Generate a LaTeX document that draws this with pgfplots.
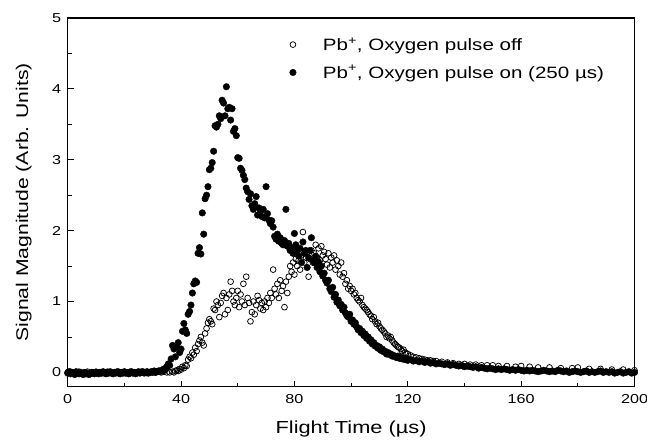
\documentclass[border=0pt]{standalone}
\usepackage{pgfplots}
\pgfplotsset{compat=1.18}
\usepackage{fontspec}
\setmainfont{Liberation Sans}[FakeStretch=1.25]
\begin{document}
\begin{tikzpicture}
\begin{axis}[
  name=ax,
  scale only axis,
  width=567bp, height=368.7bp,
  xmin=0, xmax=200, ymin=-0.2, ymax=5,
  xtick={0,40,80,120,160,200},
  ytick={0,1,2,3,4,5},
  minor x tick num=1,
  minor y tick num=1,
  xtick pos=bottom, ytick pos=left,
  tick align=inside,
  major tick length=6bp, minor tick length=4bp,
  axis line style={line width=1.1pt},
  every tick/.style={line width=0.9pt, black},
  /pgf/number format/assume math mode=true,
  ticklabel style={font=\fontsize{13}{15}\selectfont},
  xticklabel style={yshift=-4bp},
  yticklabel style={xshift=-3bp},
  xlabel={Flight Time (µs)},
  ylabel={Signal Magnitude (Arb. Units)},
  xlabel style={font=\fontsize{17.5}{20}\selectfont, at={(rel axis cs:0.5,-0.116)}, anchor=center},
  ylabel style={font=\fontsize{17}{20}\selectfont, at={(rel axis cs:-0.0776,0.5)}, anchor=center},
  legend style={draw=none, fill=none, at={(0.39,0.89)}, anchor=west,
    font=\fontsize{16.5}{19.5}\selectfont, row sep=9.5bp, inner sep=0pt,
    cells={anchor=west}},
  legend image code/.code={\path[draw=none,fill=none] (-4bp,0bp) -- (28bp,0bp); \draw[#1] plot coordinates {(0bp,0bp)};},
  clip=false,
]
\addplot[only marks, mark=o, mark size=2.9bp, mark options={line width=0.75pt, fill=white, draw=black}] table {
x y
0 0.00
1 0.01
2 -0.01
3 0.00
4 0.01
5 -0.01
6 0.00
7 0.01
8 -0.01
9 0.00
10 0.01
11 0.00
12 -0.01
13 0.00
14 0.01
15 0.00
16 -0.01
17 0.00
18 0.01
19 0.00
20 -0.01
21 0.00
22 0.01
23 0.00
24 -0.01
25 0.00
26 0.01
27 0.00
28 -0.01
29 0.00
30 0.01
31 0.00
32 0.01
33 0.00
34 0.01
35 0.00
36 0.00
37 0.01
37.5 0.00
38 0.02
38.5 0.03
39 0.02
39.5 0.05
40 0.04
40.5 0.08
41 0.06
41.5 0.10
42 0.09
42.5 0.18
43 0.22
43.5 0.20
44 0.28
44.5 0.25
45 0.35
45.5 0.30
46 0.40
46.5 0.45
47 0.50
47.5 0.42
48 0.38
48.5 0.55
49 0.62
49.5 0.70
50 0.75
50.5 0.72
51 0.68
51.5 0.90
52 0.88
52.5 1.00
53 0.95
53.5 0.78
54 0.98
54.5 1.08
55 1.12
55.5 0.82
56 1.05
56.5 0.88
57 1.10
57.5 1.28
58 1.15
58.5 1.00
59 0.95
59.5 1.05
60 1.15
60.5 0.92
61 1.10
61.5 1.00
62 1.25
62.5 0.95
63 1.35
63.5 1.05
64 0.98
64.5 0.72
65 0.85
65.5 1.00
66 0.82
66.5 0.95
67 1.08
67.5 1.02
68 0.90
68.5 0.98
69 0.88
69.5 1.00
70 0.92
70.5 1.05
71 0.98
71.5 1.12
72 1.05
72.5 1.45
73 1.18
73.5 1.10
74 1.25
74.5 1.05
75 1.30
75.5 1.15
76 1.22
76.5 0.92
77 1.28
77.5 1.12
78 1.35
78.5 1.50
79 1.42
79.5 1.55
80 1.38
80.5 1.60
81 1.50
81.5 1.58
82 1.45
82.5 1.65
83 1.98
83.5 1.55
84 1.62
84.5 1.70
85 1.35
85.5 1.60
86 1.72
86.5 1.55
87 1.68
87.5 1.80
88 1.62
88.5 1.75
89 1.58
89.5 1.78
90 1.65
90.5 1.70
91 1.60
91.5 1.52
92 1.68
92.5 1.48
93 1.62
93.5 1.55
94 1.65
94.5 1.45
95 1.58
95.5 1.50
96 1.38
96.5 1.55
97 1.35
97.5 1.40
98 1.25
98.5 1.30
99 1.18
99.5 1.22
100 1.15
100.5 1.18
101 1.10
101.5 1.12
102 1.05
102.5 1.02
103 1.00
103.5 1.05
104 0.95
104.5 0.92
105 0.90
105.5 0.88
106 0.85
106.5 0.82
107 0.80
107.5 0.75
108 0.78
108.5 0.72
109 0.68
109.5 0.70
110 0.65
110.5 0.62
111 0.60
111.5 0.58
112 0.55
112.5 0.50
113 0.52
113.5 0.48
114 0.50
114.5 0.45
115 0.42
115.5 0.40
116 0.38
116.5 0.36
117 0.35
117.5 0.33
118 0.30
118.5 0.32
119 0.28
119.5 0.27
120 0.26
121 0.24
122 0.22
123 0.21
124 0.20
125 0.19
126 0.18
127 0.17
128 0.17
129 0.16
130 0.16
132 0.15
134 0.14
136 0.13
138 0.12
140 0.12
142 0.11
144 0.11
146 0.10
148 0.10
150 0.10
152 0.09
155 0.09
158 0.08
160 0.09
163 0.08
166 0.07
170 0.07
174 0.06
178 0.06
180 0.07
184 0.05
188 0.05
192 0.04
196 0.04
200 0.03
};
\addlegendentry{Pb\textsuperscript{+}, Oxygen pulse off}
\addplot[only marks, mark=*, mark size=3.3bp, mark options={draw=black, fill=black}] table {
x y
0 -0.01
0.5 0.01
1 -0.02
1.5 0.00
2 -0.01
2.5 -0.03
3 0.01
3.5 -0.01
4 -0.02
4.5 0.00
5 -0.02
5.5 -0.03
6 0.00
6.5 -0.02
7 -0.01
7.5 -0.03
8 -0.02
8.5 0.00
9 -0.01
9.5 -0.02
10 0.00
10.5 -0.01
11 -0.02
11.5 0.00
12 -0.01
12.5 0.01
13 -0.01
13.5 -0.02
14 0.00
14.5 -0.01
15 0.01
15.5 -0.01
16 -0.02
16.5 0.00
17 -0.01
17.5 0.01
18 -0.01
18.5 -0.02
19 0.00
19.5 -0.01
20 0.01
20.5 -0.01
21 0.00
21.5 -0.02
22 -0.01
22.5 0.01
23 -0.01
23.5 0.00
24 -0.02
24.5 0.00
25 0.01
25.5 -0.01
26 0.00
26.5 0.01
27 -0.01
27.5 0.00
28 0.01
28.5 -0.01
29 0.00
29.5 0.01
30 0.00
30.5 0.02
31 0.00
31.5 0.01
32 0.02
32.5 0.01
33 0.03
33.5 0.02
34 0.05
34.5 0.04
35 0.08
35.5 0.12
36 0.10
36.5 0.19
37 0.38
37.5 0.33
38 0.22
38.5 0.36
39 0.42
39.5 0.28
40 0.33
40.5 0.58
41 0.69
41.5 0.60
42 0.55
42.5 0.82
43 0.86
43.5 0.95
44 1.12
44.5 1.25
45 1.29
45.5 1.27
46 1.68
46.5 1.76
47 1.67
47.5 2.25
48 1.95
48.5 2.45
49 2.50
49.5 2.62
50 2.86
50.5 2.88
51 2.96
51.5 3.12
52 3.48
52.5 3.46
53 3.50
53.5 3.62
54 3.58
54.5 3.84
55 3.80
55.5 3.62
56 4.03
56.5 3.72
57 3.74
57.5 3.56
58 3.72
58.5 3.40
59 3.44
59.5 3.34
60 3.03
60.5 3.02
61 2.88
61.5 2.85
62 2.78
62.5 2.72
63 2.60
63.5 2.55
64 2.44
64.5 2.52
65 2.35
65.5 2.30
66 2.38
66.5 2.48
67 2.22
67.5 2.32
68 2.28
68.5 2.20
69 2.30
69.5 2.18
70 2.62
70.5 2.24
71 2.15
71.5 2.10
72 2.14
72.5 2.05
73 1.92
73.5 1.88
74 1.95
74.5 1.85
75 1.90
75.5 1.82
76 1.80
76.5 1.86
77 2.30
77.5 1.78
78 1.82
78.5 1.72
79 1.76
79.5 1.68
80 1.96
80.5 1.80
81 1.72
81.5 1.64
82 1.75
82.5 1.55
83 1.84
83.5 1.68
84 1.72
84.5 1.48
85 1.62
85.5 1.72
86 1.90
86.5 1.58
87 1.55
87.5 1.64
88 1.48
88.5 1.56
89 1.42
89.5 1.50
90 1.36
90.5 1.40
91 1.30
91.5 1.26
92 1.30
92.5 1.18
93 1.14
93.5 1.20
94 1.06
94.5 1.10
95 0.99
95.5 1.02
96 0.94
96.5 0.96
97 0.88
97.5 0.92
98 0.84
98.5 0.80
99 0.78
99.5 0.82
100 0.72
100.5 0.74
101 0.68
101.5 0.70
102 0.64
102.5 0.60
103 0.62
103.5 0.56
104 0.58
104.5 0.52
105 0.54
105.5 0.48
106 0.50
106.5 0.44
107 0.46
107.5 0.40
108 0.42
108.5 0.37
109 0.38
109.5 0.34
110 0.36
110.5 0.31
111 0.33
111.5 0.29
112 0.30
112.5 0.26
113 0.28
113.5 0.25
114 0.26
114.5 0.23
115 0.24
115.5 0.22
116 0.21
116.5 0.23
117 0.20
117.5 0.21
118 0.19
118.5 0.20
119 0.18
119.5 0.19
120 0.17
121 0.18
122 0.16
123 0.17
124 0.15
125 0.16
126 0.14
127 0.15
128 0.13
129 0.14
130 0.12
131 0.13
132 0.12
133 0.11
134 0.12
135 0.10
136 0.11
137 0.10
138 0.09
139 0.10
140 0.08
141 0.09
142 0.08
143 0.07
144 0.08
145 0.06
146 0.07
147 0.06
148 0.05
149 0.06
150 0.05
151 0.04
152 0.05
153 0.04
154 0.05
155 0.04
156 0.03
157 0.04
158 0.03
159 0.04
160 0.03
161 0.02
162 0.03
163 0.02
164 0.03
165 0.02
166 0.01
167 0.02
168 0.03
169 0.02
170 0.01
171 0.02
172 0.01
173 0.03
174 0.02
175 0.01
176 0.02
177 0.00
178 0.01
179 0.02
180 0.01
181 0.00
182 0.01
183 0.02
184 0.00
185 0.01
186 0.00
187 0.01
188 0.02
189 0.00
190 0.01
191 0.00
192 0.01
193 -0.01
194 0.00
195 0.01
196 -0.01
197 0.00
198 0.01
199 -0.01
200 0.00
};
\addlegendentry{Pb\textsuperscript{+}, Oxygen pulse on (250 µs)}
\end{axis}
\pgfresetboundingbox
\useasboundingbox ([shift={(-67.7bp,-59.3bp)}]ax.south west) rectangle ([shift={(12.5bp,18bp)}]ax.north east);
\end{tikzpicture}
\end{document}
